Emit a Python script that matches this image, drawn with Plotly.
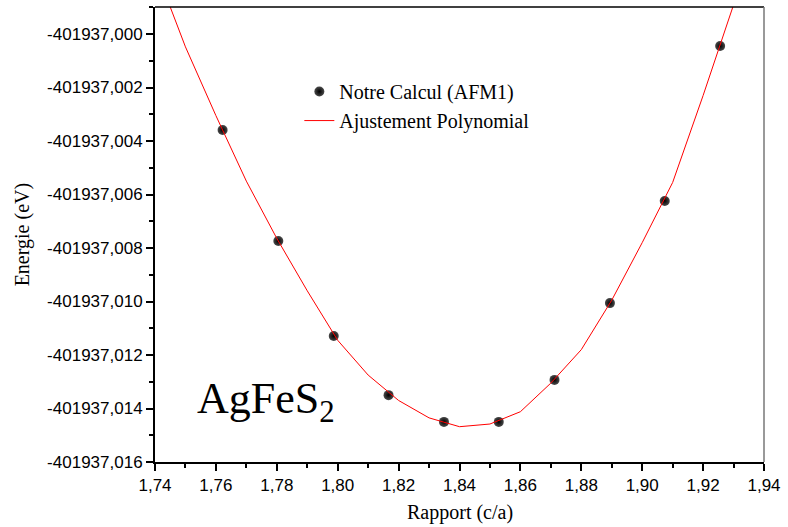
import plotly.graph_objects as go

# Calculated points (c/a ratio, total energy in eV)
ratio = [1.7622, 1.7805, 1.7987, 1.8167, 1.8349, 1.8529, 1.8712, 1.8894, 1.9074, 1.9256]
energy = [-401937.00359, -401937.00774, -401937.01129, -401937.01350, -401937.01450,
          -401937.01450, -401937.01293, -401937.01006, -401937.00624, -401937.00045]

# Polynomial fit curve as drawn
fit_ratio = [1.74, 1.75, 1.76, 1.77, 1.78, 1.79, 1.80, 1.81, 1.82, 1.83,
             1.84, 1.85, 1.86, 1.87, 1.88, 1.89, 1.90, 1.91, 1.92, 1.93]
fit_energy = [-401936.99750, -401937.00048, -401937.00305, -401937.00550, -401937.00764,
              -401937.00960, -401937.01145, -401937.01275, -401937.01370, -401937.01435,
              -401937.01468, -401937.01458, -401937.01412, -401937.01305, -401937.01180,
              -401937.00995, -401937.00780, -401937.00555, -401937.00230, -401936.99891]

# Axis ticks
x_tick_vals = [1.74, 1.76, 1.78, 1.80, 1.82, 1.84, 1.86, 1.88, 1.90, 1.92, 1.94]
x_tick_labels = ["1,74", "1,76", "1,78", "1,80", "1,82", "1,84", "1,86", "1,88", "1,90", "1,92", "1,94"]
y_tick_vals = [-401937.000, -401937.002, -401937.004, -401937.006, -401937.008,
               -401937.010, -401937.012, -401937.014, -401937.016]
y_tick_labels = ["-401937,000", "-401937,002", "-401937,004", "-401937,006", "-401937,008",
                 "-401937,010", "-401937,012", "-401937,014", "-401937,016"]

x_range = [1.74, 1.94]
y_range = [-401937.016, -401936.99899]

serif = "Liberation Serif, Times New Roman, serif"
sans = "Liberation Sans, Arial, sans-serif"

fig = go.Figure()
fig.add_trace(go.Scatter(
    x=ratio, y=energy, mode="markers", name="Notre Calcul (AFM1)",
    marker=dict(size=10, color="#4a4a4a", gradient=dict(type="radial", color="black"),
                line=dict(width=0)),
))
fig.add_trace(go.Scatter(
    x=fit_ratio, y=fit_energy, mode="lines", name="Ajustement Polynomial",
    line=dict(color="red", width=1),
))

fig.update_layout(
    width=788, height=527,
    margin=dict(l=155, r=20, t=7, b=65),
    paper_bgcolor="white", plot_bgcolor="white",
    showlegend=True,
    legend=dict(x=0.237, y=0.857, xanchor="left", yanchor="top",
                font=dict(family=serif, size=20, color="black"),
                bgcolor="rgba(0,0,0,0)", tracegroupgap=0),
    xaxis=dict(range=x_range, tickmode="array", tickvals=x_tick_vals, ticktext=x_tick_labels,
               showgrid=False, zeroline=False, showline=True, linecolor="black", linewidth=2,
               ticks="outside", ticklen=7, tickwidth=1.5, tickcolor="black",
               minor=dict(dtick=0.01, tick0=1.74, ticks="outside", ticklen=4, tickwidth=1.5,
                          tickcolor="black", showgrid=False),
               tickfont=dict(family=sans, size=17, color="black")),
    yaxis=dict(range=y_range, tickmode="array", tickvals=y_tick_vals, ticktext=y_tick_labels,
               showgrid=False, zeroline=False, showline=True, linecolor="black", linewidth=2,
               ticks="outside", ticklen=7, tickwidth=1.5, tickcolor="black",
               minor=dict(dtick=0.001, tick0=-401937.0, ticks="outside", ticklen=4, tickwidth=1.5,
                          tickcolor="black", showgrid=False),
               tickfont=dict(family=sans, size=17, color="black")),
    shapes=[
        dict(type="line", xref="paper", yref="paper", x0=0, x1=1, y0=1, y1=1,
             line=dict(color="black", width=1.5)),
        dict(type="line", xref="paper", yref="paper", x0=1, x1=1, y0=0, y1=1,
             line=dict(color="#777777", width=1.5)),
    ],
    annotations=[
        dict(text="Rapport (c/a)", xref="paper", yref="paper", x=0.5, y=-0.112,
             xanchor="center", yanchor="middle", showarrow=False,
             font=dict(family=serif, size=20, color="black")),
        dict(text="Energie (eV)", xref="paper", yref="paper", x=-0.217, y=0.5,
             xanchor="center", yanchor="middle", textangle=-90, showarrow=False,
             font=dict(family=serif, size=20, color="black")),
        dict(text="AgFeS<sub>2</sub>", xref="paper", yref="paper", x=0.066, y=0.132,
             xanchor="left", yanchor="middle", showarrow=False,
             font=dict(family=serif, size=44, color="black")),
    ],
)

fig.write_html("out.html")
